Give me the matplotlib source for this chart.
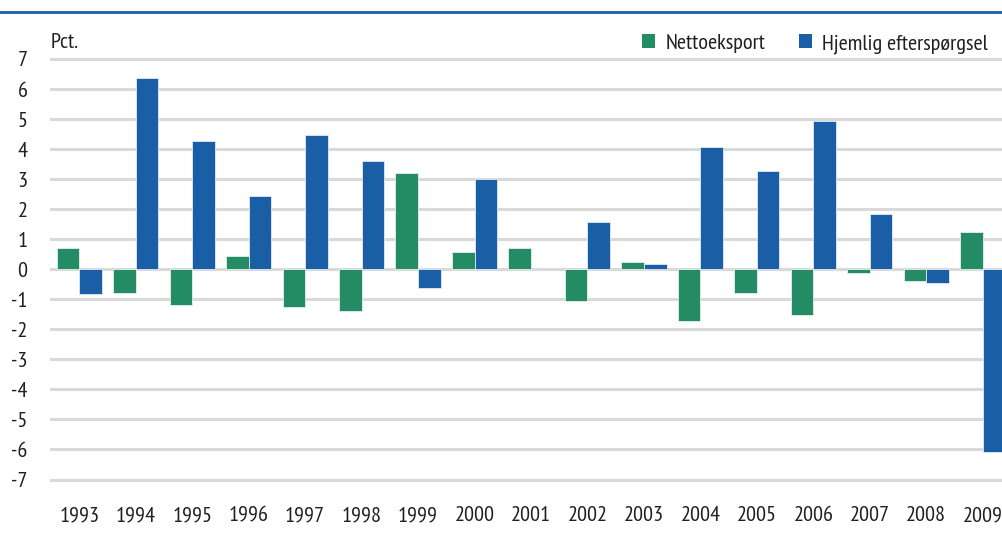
import numpy as np
import matplotlib.pyplot as plt
from matplotlib.lines import Line2D
from matplotlib.patches import Patch

# =========================
# DATA
# =========================
years = ["1993", "1994", "1995", "1996", "1997", "1998", "1999", "2000", "2001",
         "2002", "2003", "2004", "2005", "2006", "2007", "2008", "2009"]
netto = [0.71, -0.80, -1.20, 0.44, -1.27, -1.39, 3.20, 0.57, 0.72,
         -1.05, 0.25, -1.71, -0.78, -1.51, -0.13, -0.40, 1.25]
hjemlig = [-0.81, 6.37, 4.27, 2.43, 4.46, 3.60, -0.61, 3.02, 0.05,
           1.57, 0.19, 4.08, 3.28, 4.94, 1.85, -0.46, -6.08]
yticks = list(range(-7, 8))

GREEN = "#238C65"
BLUE = "#1A5FA5"
GRID = "#D9D9D9"
TXT = "#231F20"

FONT = ["PT Sans Narrow", "DejaVu Sans"]
plt.rcParams["font.family"] = FONT
FS = 16

# =========================
# FIGURE
# =========================
fig = plt.figure(figsize=(10.02, 5.47), dpi=100)
ax = fig.add_axes([51 / 1002, 67.5 / 547, 960 / 1002, 420.5 / 547])

x = np.arange(len(years))
w = 0.4
ax.bar(x - w / 2, netto, width=w, color=GREEN, edgecolor="#E8F0EC", linewidth=0.6, zorder=3)
ax.bar(x + w / 2, hjemlig, width=w, color=BLUE, edgecolor="#E3EAF3", linewidth=0.6, zorder=3)

ax.set_xlim(-0.5, len(years) - 0.5)
ax.set_ylim(-7, 7)
ax.set_yticks(yticks)
ax.set_yticklabels([str(t) for t in yticks])
ax.set_xticks(x)
ax.set_xticklabels(years)
ax.tick_params(axis="both", length=0, labelsize=FS, colors=TXT)
ax.tick_params(axis="y", pad=17)
ax.tick_params(axis="x", pad=19)

for t in yticks:
    ax.axhline(t, color=GRID, linewidth=2.2, zorder=1, clip_on=False)

for s in ax.spines.values():
    s.set_visible(False)

# "Pct." label
fig.text(51 / 1002, 1 - 42 / 547, "Pct.", fontsize=FS, color=TXT, va="center", ha="left")

# legend
handles = [Patch(facecolor=GREEN, edgecolor="none"), Patch(facecolor=BLUE, edgecolor="none")]
fig.legend(handles, ["Nettoeksport", "Hjemlig efterspørgsel"], loc="center right",
           bbox_to_anchor=(999 / 1002, 1 - 44 / 547), ncol=2, frameon=False,
           fontsize=FS, handlelength=0.6, handleheight=0.6, handletextpad=0.45,
           columnspacing=1.5, labelcolor=TXT, borderpad=0)

# top rule
fig.add_artist(Line2D([0, 1], [1 - 12 / 547, 1 - 12 / 547], color=BLUE, linewidth=2.0,
                      transform=fig.transFigure))

fig.savefig("out.png", dpi=100)
